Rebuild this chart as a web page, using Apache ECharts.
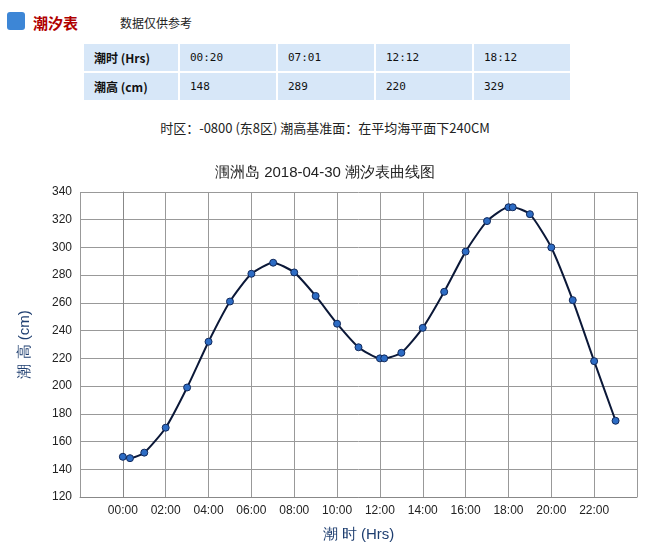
<!DOCTYPE html>
<html><head><meta charset="utf-8">
<script src="https://cdn.jsdelivr.net/npm/echarts@6/dist/echarts.min.js"></script>
<style>
body{margin:0;width:650px;height:547px;background:#fff;font-family:"Noto Sans CJK SC","DejaVu Sans",sans-serif;position:relative;overflow:hidden}
#icon{position:absolute;left:7px;top:12px;width:18px;height:18px;background:#3d86d6;border-radius:3px}
#ttl{position:absolute;left:33px;top:12px;font-size:15px;font-weight:bold;color:#b00000}
#note{position:absolute;left:120px;top:14px;font-size:12px;color:#222}
table{position:absolute;left:82px;top:42px;border-collapse:collapse}
td{background:#d7e7f8;border:2px solid #fff;height:27px;width:86px;font-size:11px;padding:0 0 0 10px;color:#111;font-family:"DejaVu Sans Mono",monospace}
td.h{font-weight:bold;font-family:"Noto Sans CJK SC",sans-serif;font-size:12px;width:84px}
#tz{position:absolute;left:0;width:650px;top:118px;text-align:center;font-size:13px;color:#222}
#c{position:absolute;left:0;top:150px;width:650px;height:397px}
</style></head><body>
<div id="icon"></div><div id="ttl">潮汐表</div><div id="note">数据仅供参考</div>
<table>
<tr><td class="h">潮时 (Hrs)</td><td>00:20</td><td>07:01</td><td>12:12</td><td>18:12</td></tr>
<tr><td class="h">潮高 (cm)</td><td>148</td><td>289</td><td>220</td><td>329</td></tr>
</table>
<div id="tz">时区：-0800 (东8区) 潮高基准面：在平均海平面下240CM</div>
<div id="c"></div>
<script>
const hours=[0,0.333,1,2,3,4,5,6,7.017,8,9,10,11,12,12.2,13,14,15,16,17,18,18.2,19,20,21,22,23];
const heights=[149,148,152,170,199,232,261,281,289,282,265,245,228,220,220,224,242,268,297,319,329,329,324,300,262,218,175];
const xTicks=['00:00','02:00','04:00','06:00','08:00','10:00','12:00','14:00','16:00','18:00','20:00','22:00'];
const chart=echarts.init(document.getElementById('c'));
chart.setOption({
 animation:false,
 title:{text:'涠洲岛 2018-04-30 潮汐表曲线图',left:'center',top:10,textStyle:{fontSize:15,fontWeight:'normal',color:'#222'}},
 grid:{left:80,right:13,top:42,bottom:45},
 xAxis:{type:'value',min:-2,max:24,interval:2,
  name:'潮 时 (Hrs)',nameLocation:'middle',nameGap:30,nameTextStyle:{fontSize:15,color:'#1e3e70'},
  axisLine:{lineStyle:{color:'#888'}},axisTick:{show:false},
  axisLabel:{color:'#222',fontSize:12,formatter:v=>{const i=v/2;return (v>=0&&v<=22)?xTicks[i]:'';}},
  splitLine:{show:true,lineStyle:{color:'#999'}}},
 yAxis:{type:'value',min:120,max:340,interval:20,
  name:'潮 高 (cm)',nameLocation:'middle',nameGap:48,nameTextStyle:{fontSize:15,color:'#1e3e70'},
  axisLine:{show:true,lineStyle:{color:'#888'}},axisTick:{show:false},
  axisLabel:{color:'#222',fontSize:12},
  splitLine:{lineStyle:{color:'#999'}}},
 series:[{type:'line',data:hours.map((h,i)=>[h,heights[i]]),smooth:0.2,
  lineStyle:{color:'#0b1838',width:2},symbol:'circle',symbolSize:7,
  itemStyle:{color:'#2d6cc4',borderColor:'#10285a',borderWidth:1}}]
});
</script></body></html>
